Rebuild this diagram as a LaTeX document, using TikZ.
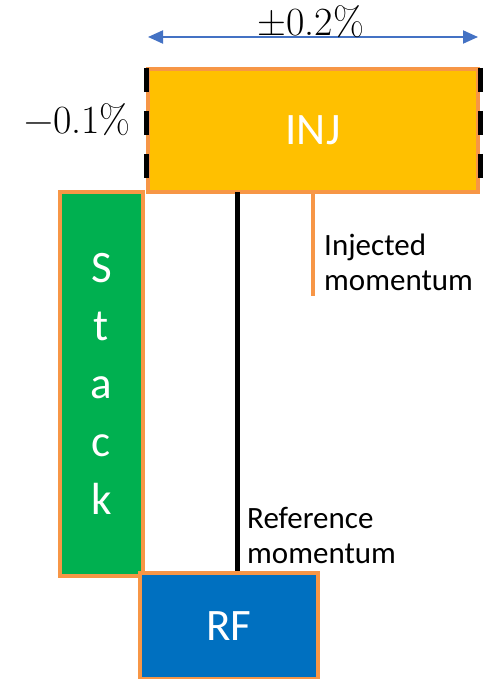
\documentclass[tikz,border=0pt]{standalone}
\usepackage{fontspec}
\setsansfont{Carlito}
\newfontfamily\mathtxt{Latin Modern Roman}
\usetikzlibrary{arrows.meta}
\definecolor{injfill}{RGB}{255,192,0}
\definecolor{edgeor}{RGB}{247,150,70}
\definecolor{stackgreen}{RGB}{0,176,80}
\definecolor{rfblue}{RGB}{0,112,192}
\definecolor{arrblue}{RGB}{68,114,196}
\tikzset{
  box/.style={draw=edgeor, line width=4pt, inner sep=0pt, text=white, font=\sffamily\fontsize{45}{58}\selectfont, align=center},
  lbl/.style={inner sep=0pt, anchor=west, align=left, font=\sffamily\fontsize{31}{35}\selectfont},
  mathlbl/.style={inner sep=0pt, font=\mathtxt\fontsize{40}{46}\selectfont},
  edgedash/.style={line width=5pt, black, dash pattern=on 24pt off 19pt},
}
\begin{document}
\begin{tikzpicture}[x=1pt,y=-1pt]
\useasboundingbox (0,0) rectangle (490,679);
\node[box, fill=injfill, minimum width=330pt, minimum height=123pt] (inj) at (313,130.5) {INJ};
\node[box, fill=stackgreen, minimum width=83pt, minimum height=384pt] (stack) at (101.5,384) {S\\t\\a\\c\\k};
\node[box, fill=rfblue, minimum width=178pt, minimum height=106pt] (rf) at (229,626) {RF};
% dashed edges
\draw[edgedash] ([yshift=-1pt]inj.north west) -- ([yshift=-2pt]inj.south west);
\draw[edgedash] ([yshift=-1pt]inj.north east) -- ([yshift=-2pt]inj.south east);
% reference line
\coordinate (reftop) at (237,192);
\draw[line width=5pt, black] (reftop) -- (reftop |- rf.north);
% injected line
\coordinate (injtop) at (313,192);
\coordinate (injbot) at (313,296);
\draw[line width=4pt, edgeor] (injtop) -- (injbot);
% arrow
\coordinate (a1) at (148,37);
\coordinate (a2) at (478,37);
\draw[arrblue, line width=2pt, {Triangle[length=15pt,width=13pt]}-{Triangle[length=15pt,width=13pt]}] (a1) -- (a2);
\node[mathlbl] (pm) at (311,22) {±0.2\%};
\node[mathlbl, anchor=east] (mi) at (131,120) {−0.1\%};
\node[lbl] (injlbl) at (324,262) {Injected\\momentum};
\node[lbl] (reflbl) at (247,535) {Reference\\momentum};
\end{tikzpicture}
\end{document}
